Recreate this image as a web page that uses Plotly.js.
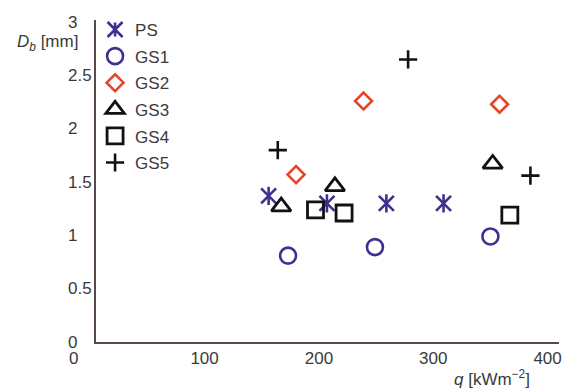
<!DOCTYPE html>
<html>
<head>
<meta charset="utf-8">
<script src="https://cdn.plot.ly/plotly-3.0.1.min.js"></script>
<style>html,body{margin:0;padding:0;background:#fff;}#chart{width:565px;height:389px;}</style>
</head>
<body>
<div id="chart"></div>
<script>
// Data (q in kW m^-2, Db in mm)
var seriesNames = ["PS", "GS1", "GS2", "GS3", "GS4", "GS5"];
var psQ  = [156, 207, 259, 309];
var psD  = [1.37, 1.30, 1.30, 1.30];
var gs1Q = [173, 249, 350];
var gs1D = [0.81, 0.89, 0.99];
var gs2Q = [180, 239, 358];
var gs2D = [1.57, 2.26, 2.23];
var gs3Q = [167, 214, 352];
var gs3D = [1.27, 1.46, 1.67];
var gs4Q = [197, 222, 367];
var gs4D = [1.24, 1.21, 1.19];
var gs5Q = [164, 278, 385];
var gs5D = [1.80, 2.65, 1.56];
var xTickVals = [100, 200, 300, 400];
var xTickText = ["100", "200", "300", "400"];
var yTickVals = [0, 0.5, 1, 1.5, 2, 2.5, 3];
var yTickText = ["0", "0.5", "1", "1.5", "2", "2.5", "3"];

var FONT = "Liberation Sans, Arial, sans-serif";
var TXT = "#3a3a3a";
var INDIGO = "#3d3190";
var RED = "#e8442a";
var BLK = "#111111";

function tr(name, x, y, symbol, size, color, width, group, showlegend) {
  return {
    type: "scatter", mode: "markers", name: name, x: x, y: y,
    legendgroup: group, showlegend: showlegend,
    marker: {symbol: symbol, size: size, color: color,
             line: {color: color, width: width}},
    hoverinfo: "x+y"
  };
}

var data = [
  tr(seriesNames[0], psQ, psD, "x-thin-open", 15, INDIGO, 2.6, "g0", true),
  tr(seriesNames[0], psQ, psD, "line-ns-open", 13, INDIGO, 2.6, "g0", false),
  tr(seriesNames[1], gs1Q, gs1D, "circle-open", 16, INDIGO, 2.6, "g1", true),
  tr(seriesNames[2], gs2Q, gs2D, "diamond-open", 13, RED, 2.6, "g2", true),
  tr(seriesNames[3], gs3Q, gs3D, "triangle-up-open", 17, BLK, 2.8, "g3", true),
  tr(seriesNames[4], gs4Q, gs4D, "square-open", 16, BLK, 2.8, "g4", true),
  tr(seriesNames[5], gs5Q, gs5D, "cross-thin-open", 13, BLK, 2.6, "g5", true)
];

var annotations = [];
// y tick labels (left-aligned as in the reference)
for (var i = 0; i < yTickVals.length; i++) {
  annotations.push({xref: "paper", yref: "y", x: -0.065, y: yTickVals[i],
    text: yTickText[i], showarrow: false, xanchor: "left", yanchor: "middle",
    font: {family: FONT, size: 17, color: TXT}});
}
// x "0" label
annotations.push({xref: "paper", yref: "paper", x: -0.048, y: -0.05,
  text: "0", showarrow: false, xanchor: "center", yanchor: "middle",
  font: {family: FONT, size: 17, color: TXT}});
// axis titles
annotations.push({xref: "paper", yref: "paper", x: -0.035, y: 0.929,
  text: "<i>D</i><sub><i>b</i></sub> [mm]", showarrow: false, xanchor: "right", yanchor: "middle",
  font: {family: FONT, size: 17, color: TXT}});
annotations.push({xref: "paper", yref: "paper", x: 0.942, y: -0.112,
  text: "<i>q</i> [kWm<sup>\u22122</sup>]", showarrow: false, xanchor: "right", yanchor: "middle",
  font: {family: FONT, size: 17, color: TXT}});

var layout = {
  width: 565, height: 389,
  margin: {l: 96, r: 6, t: 20, b: 47, pad: 0},
  paper_bgcolor: "#ffffff", plot_bgcolor: "#ffffff",
  font: {family: FONT, size: 17, color: TXT},
  showlegend: true,
  legend: {x: -0.002, y: 1.025, xanchor: "left", yanchor: "top",
           bgcolor: "rgba(0,0,0,0)", borderwidth: 0, tracegroupgap: 1.5,
           font: {family: FONT, size: 17, color: TXT}},
  xaxis: {range: [5, 410], showline: true, linecolor: "#5a4a44", linewidth: 2,
          showgrid: false, zeroline: false, ticks: "", tickvals: xTickVals, ticktext: xTickText,
          tickfont: {family: FONT, size: 17, color: TXT}, fixedrange: true},
  yaxis: {range: [0, 3.02], showline: true, linecolor: "#5a4a44", linewidth: 2,
          showgrid: false, zeroline: false, ticks: "", showticklabels: false, fixedrange: true},
  annotations: annotations
};

Plotly.newPlot("chart", data, layout, {displayModeBar: false, staticPlot: true}).then(function () {
  try {
    var trs = document.querySelectorAll(".legend .traces");
    if (trs.length) {
      var p = trs[0].querySelector("path.scatterpts");
      if (p) { p.setAttribute("d", p.getAttribute("d") + "M0,-7V7"); }
    }
  } catch (e) {}
});
</script>
</body>
</html>
